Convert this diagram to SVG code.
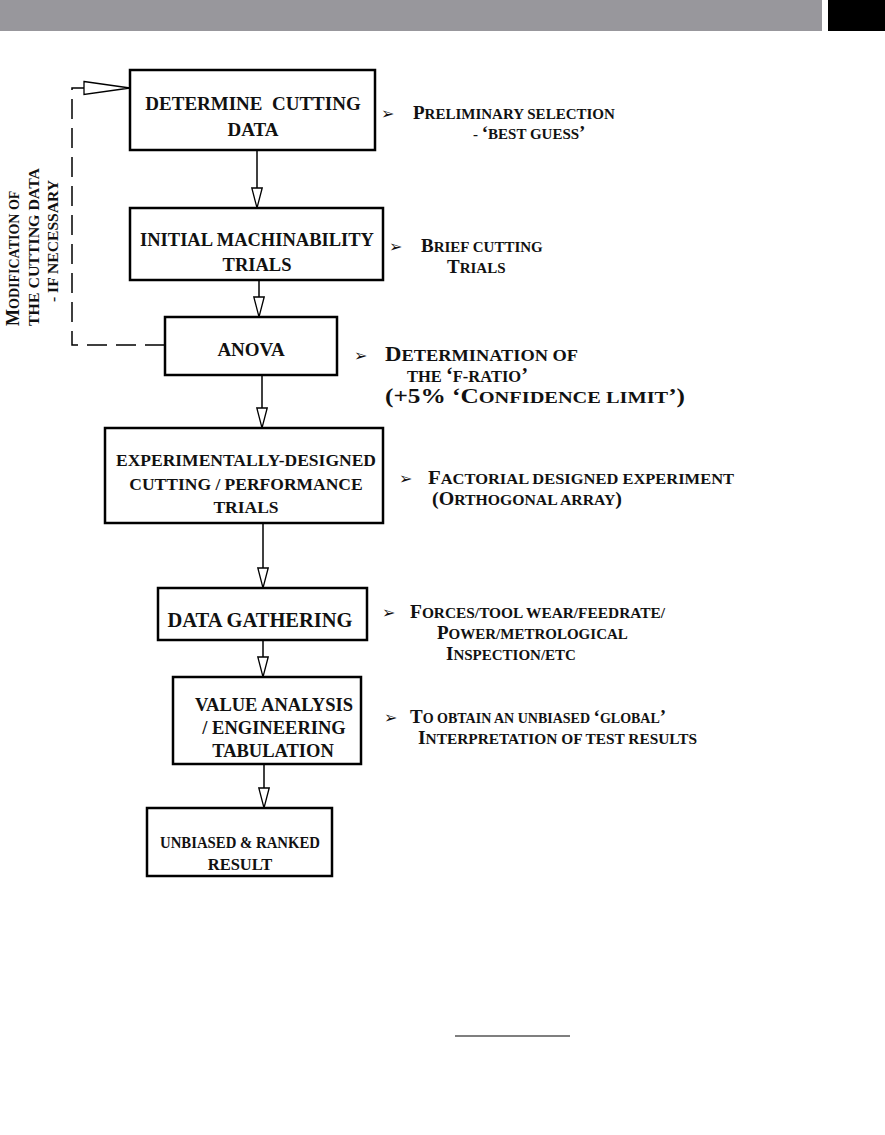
<svg xmlns="http://www.w3.org/2000/svg" width="885" height="1135" viewBox="0 0 885 1135">
<style>
.box{fill:#fff;stroke:#000;stroke-width:2.5}
.bt{font-family:"Liberation Serif","Times New Roman",serif;font-weight:bold;font-size:18.5px;text-anchor:middle;fill:#111}
.an{font-family:"Liberation Serif","Times New Roman",serif;font-weight:bold;font-size:15px;fill:#111}
.an2{font-family:"Liberation Serif","Times New Roman",serif;font-weight:bold;font-size:16.5px;fill:#111}
.rt{font-family:"Liberation Serif","Times New Roman",serif;font-weight:bold;font-size:14px;fill:#111}
.c{font-size:19px}
.c2{font-size:20.5px}
.rc{font-size:18px}
.bul{font-family:"DejaVu Sans",sans-serif;font-size:16px;fill:#111}
.con{fill:none;stroke:#000;stroke-width:1.5}
.head{fill:#fff;stroke:#000;stroke-width:1.3}
</style>
<defs>
<marker id="ah" markerUnits="userSpaceOnUse" markerWidth="24" markerHeight="14" refX="20" refY="6" orient="auto" overflow="visible">
<path d="M0,0.8 L20,6 L0,11.2 Z" class="head"/>
</marker>
</defs>
<rect width="885" height="1135" fill="#fff"/>
<rect x="0" y="0" width="822" height="31" fill="#98979c"/>
<rect x="828" y="0" width="57" height="31" fill="#000"/>

<g id="connectors">
<line class="con" x1="257" y1="150" x2="257" y2="208" marker-end="url(#ah)"/>
<line class="con" x1="259" y1="280" x2="259" y2="317" marker-end="url(#ah)"/>
<line class="con" x1="262" y1="375" x2="262" y2="428" marker-end="url(#ah)"/>
<line class="con" x1="263" y1="523" x2="263" y2="588" marker-end="url(#ah)"/>
<line class="con" x1="263" y1="640" x2="263" y2="677" marker-end="url(#ah)"/>
<line class="con" x1="264" y1="764" x2="264" y2="808" marker-end="url(#ah)"/>
<path class="con" d="M165,345 H72 V88 H84" stroke-dasharray="20 9"/>
<path class="head" d="M84,81.5 L130,88 L84,94.5 Z"/>
</g>

<g id="n1">
<rect class="box" x="130" y="70" width="245" height="80"/>
<text class="bt" x="253" y="110" style="font-size:19px" xml:space="preserve">DETERMINE  CUTTING</text>
<text class="bt" x="253" y="136" style="font-size:19px">DATA</text>
</g>
<g id="n2">
<rect class="box" x="130" y="208" width="253" height="72"/>
<text class="bt" x="257" y="246">INITIAL MACHINABILITY</text>
<text class="bt" x="257" y="271">TRIALS</text>
</g>
<g id="n3">
<rect class="box" x="165" y="317" width="172" height="58"/>
<text class="bt" x="251" y="356" style="font-size:19px">ANOVA</text>
</g>
<g id="n4">
<rect class="box" x="105" y="428" width="278" height="95"/>
<text class="bt" x="246" y="466" style="font-size:17.5px">EXPERIMENTALLY-DESIGNED</text>
<text class="bt" x="246" y="490" style="font-size:17.5px">CUTTING / PERFORMANCE</text>
<text class="bt" x="246" y="513" style="font-size:17.5px">TRIALS</text>
</g>
<g id="n5">
<rect class="box" x="158" y="588" width="209" height="52"/>
<text class="bt" x="260" y="627" style="font-size:20.5px">DATA GATHERING</text>
</g>
<g id="n6">
<rect class="box" x="173" y="677" width="188" height="87"/>
<text class="bt" x="274" y="711">VALUE ANALYSIS</text>
<text class="bt" x="274" y="734">/ ENGINEERING</text>
<text class="bt" x="273" y="757">TABULATION</text>
</g>
<g id="n7">
<rect class="box" x="147" y="808" width="185" height="68"/>
<text class="bt" x="240" y="848" style="font-size:16.5px" textLength="160" lengthAdjust="spacingAndGlyphs">UNBIASED &amp; RANKED</text>
<text class="bt" x="240" y="870" style="font-size:16.5px">RESULT</text>
</g>

<g id="feedback-label">
<text class="rt" transform="translate(19,326) rotate(-90)"><tspan class="rc">M</tspan>ODIFICATION OF</text>
<text class="rt" transform="translate(39,326) rotate(-90)" textLength="158" lengthAdjust="spacingAndGlyphs">THE CUTTING DATA</text>
<text class="rt" transform="translate(58,302) rotate(-90)" textLength="122" lengthAdjust="spacingAndGlyphs">- IF NECESSARY</text>
</g>

<g id="notes">
<text class="bul" x="381" y="119">➢</text>
<text class="an" x="413" y="119"><tspan class="c">P</tspan>RELIMINARY SELECTION</text>
<text class="an" x="473" y="139">- <tspan class="c">‘</tspan>BEST GUESS<tspan class="c">’</tspan></text>

<text class="bul" x="389" y="252">➢</text>
<text class="an" x="421" y="252"><tspan class="c">B</tspan>RIEF CUTTING</text>
<text class="an" x="447" y="273"><tspan class="c">T</tspan>RIALS</text>

<text class="bul" x="354" y="361">➢</text>
<text class="an2" x="385" y="361" textLength="193" lengthAdjust="spacingAndGlyphs"><tspan class="c2">D</tspan>ETERMINATION OF</text>
<text class="an2" x="407" y="382" textLength="121" lengthAdjust="spacingAndGlyphs">THE <tspan class="c2">‘</tspan>F-RATIO<tspan class="c2">’</tspan></text>
<text class="an2" x="385" y="403" textLength="300" lengthAdjust="spacingAndGlyphs"><tspan class="c2">(+5% ‘C</tspan>ONFIDENCE LIMIT<tspan class="c2">’)</tspan></text>

<text class="bul" x="399" y="484">➢</text>
<text class="an" x="428" y="484" textLength="306" lengthAdjust="spacingAndGlyphs"><tspan class="c">F</tspan>ACTORIAL DESIGNED EXPERIMENT</text>
<text class="an" x="432" y="505" textLength="190" lengthAdjust="spacingAndGlyphs"><tspan class="c">(O</tspan>RTHOGONAL ARRAY<tspan class="c">)</tspan></text>

<text class="bul" x="382" y="618">➢</text>
<text class="an" x="410" y="618" textLength="255" lengthAdjust="spacingAndGlyphs"><tspan class="c">F</tspan>ORCES/TOOL WEAR/FEEDRATE/</text>
<text class="an" x="437" y="639"><tspan class="c">P</tspan>OWER/METROLOGICAL</text>
<text class="an" x="446" y="660"><tspan class="c">I</tspan>NSPECTION/ETC</text>

<text class="bul" x="384" y="723">➢</text>
<text class="an" x="410" y="723" style="font-size:14px"><tspan class="c">T</tspan>O OBTAIN AN UNBIASED <tspan class="c">‘</tspan>GLOBAL<tspan class="c">’</tspan></text>
<text class="an" x="418" y="744" textLength="279" lengthAdjust="spacingAndGlyphs"><tspan class="c">I</tspan>NTERPRETATION OF TEST RESULTS</text>
</g>

<line x1="455" y1="1036" x2="570" y2="1036" stroke="#000" stroke-width="1.2"/>
</svg>
